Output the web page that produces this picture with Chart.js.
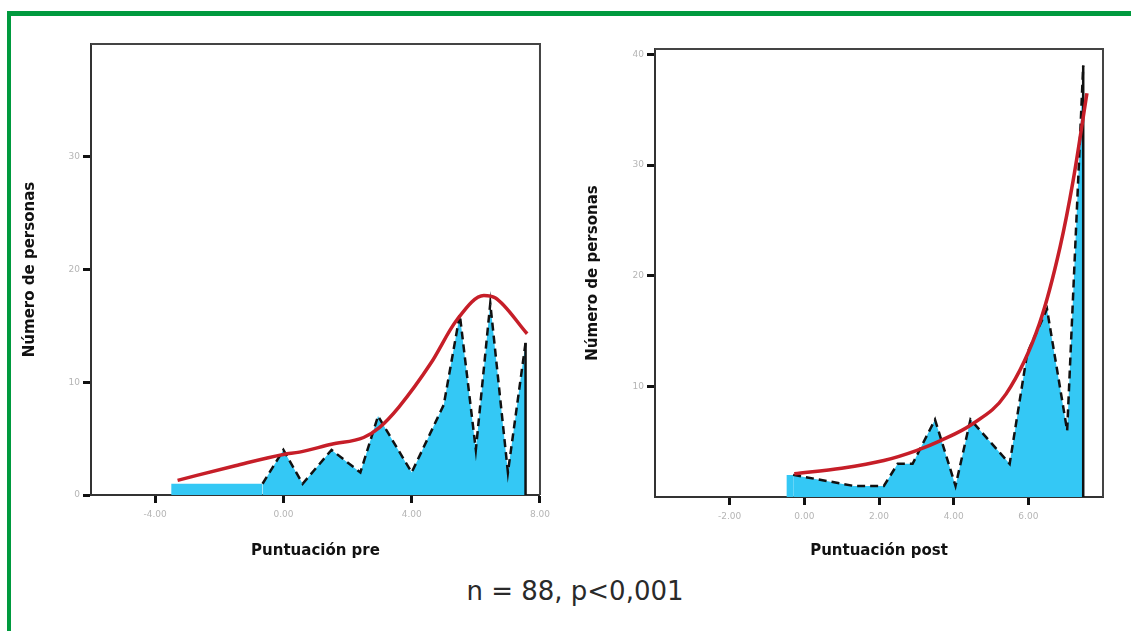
<!DOCTYPE html>
<html lang="es">
<head>
<meta charset="UTF-8">
<title>Puntuación pre / post</title>
<script src="https://cdn.jsdelivr.net/npm/chart.js"></script>
<style>
  body { margin: 0; background: #fff; width: 1131px; height: 631px; overflow: hidden; position: relative; }
  .marco { position: absolute; left: 7px; top: 11px; width: 1200px; height: 700px;
           border-top: 5px solid #009a3e; border-left: 4px solid #009a3e; }
  canvas { position: absolute; }
  #pre { left: 16px; top: 30px; }
  #post { left: 570px; top: 30px; }
  .pie { position: absolute; left: 375px; top: 576px; width: 400px; text-align: center;
         font: 26px "DejaVu Sans", sans-serif; color: #2a2a2a; line-height: 30px; }
</style>
</head>
<body>
<div class="marco"></div>
<canvas id="pre" width="540" height="540"></canvas>
<canvas id="post" width="545" height="540"></canvas>
<div class="pie">n = 88, p&lt;0,001</div>

<script>
// puntuación pre: polígono de frecuencias
const preX = [-3.5, -0.65, 0.0, 0.6, 1.5, 2.4, 2.95, 4.0, 5.0, 5.5, 6.0, 6.45, 7.0, 7.55, 7.55];
const preY = [1, 1, 4, 1, 4, 2, 7, 2, 8, 16, 4, 17, 2, 13.5, 0];
// curva ajustada (roja)
const preCurvaX = [-3.3, -1.5, 0.0, 0.5, 1.5, 2.5, 3.0, 3.6, 4.6, 5.4, 6.25, 6.6, 7.6];
const preCurvaY = [1.3, 2.6, 3.6, 3.8, 4.5, 5.1, 6.0, 7.8, 11.7, 15.5, 17.7, 17.5, 14.3];
const preTicksX = [-4, 0, 4, 8];
const preTicksY = [0, 10, 20, 30];

// puntuación post
const postX = [-0.48, -0.3, 1.33, 2.13, 2.5, 2.9, 3.5, 4.05, 4.45, 5.5, 5.97, 6.5, 7.04, 7.47, 7.47];
const postY = [2, 2, 1, 1, 3, 3, 7, 1, 7, 3, 13, 17, 6, 39, 0];
const postCurvaX = [-0.27, 1.0, 2.13, 3.0, 3.65, 4.5, 5.4, 6.3, 6.85, 7.2, 7.57];
const postCurvaY = [2.1, 2.6, 3.3, 4.2, 5.1, 6.6, 9.3, 15.7, 22.6, 28.6, 36.5];
const postTicksX = [-2, 0, 2, 4, 6];
const postTicksY = [10, 20, 30, 40];

const azul = 'rgb(52, 200, 245)';
const rojo = 'rgb(198, 30, 40)';
const tituloFont = { family: 'DejaVu Sans', size: 15, weight: 'bold' };
const tickFont = { family: 'DejaVu Sans', size: 9 };

const puntos = (xs, ys) => xs.map((x, i) => ({ x: x, y: ys[i] }));

// marco superior y derecho del área de datos
const marco = {
  id: 'marco',
  afterDraw(chart) {
    const a = chart.chartArea, ctx = chart.ctx;
    ctx.save();
    ctx.strokeStyle = '#444';
    ctx.lineWidth = 2;
    ctx.beginPath();
    ctx.moveTo(a.left, a.top);
    ctx.lineTo(a.right, a.top);
    ctx.lineTo(a.right, a.bottom);
    ctx.stroke();
    ctx.restore();
  }
};

function grafico(id, poliX, poliY, curX, curY, ticksX, ticksY, xMin, xMax, yMax, tituloX, dims) {
  const n = poliX.length;
  new Chart(document.getElementById(id), {
    type: 'line',
    data: {
      datasets: [{
        data: puntos(curX, curY),
        borderColor: rojo,
        borderWidth: 3.5,
        pointRadius: 0,
        cubicInterpolationMode: 'monotone',
        fill: false
      }, {
        data: puntos(poliX, poliY),
        borderColor: '#111',
        borderWidth: 2.5,
        borderDash: [8, 5],
        backgroundColor: azul,
        pointRadius: 0,
        tension: 0,
        fill: 'origin',
        segment: {
          borderColor: c => c.p0DataIndex === 0 ? 'rgba(0,0,0,0)' : undefined,
          borderDash: c => c.p1DataIndex === n - 1 ? [] : undefined
        }
      }]
    },
    options: {
      responsive: false,
      animation: false,
      devicePixelRatio: 1,
      layout: { padding: { top: dims.top, right: dims.right, left: 0, bottom: 0 } },
      plugins: { legend: { display: false }, tooltip: { enabled: false } },
      scales: {
        x: {
          type: 'linear',
          min: xMin,
          max: xMax,
          afterBuildTicks: s => { s.ticks = ticksX.map(v => ({ value: v })); },
          afterFit: s => { s.height = dims.xh; },
          ticks: { font: tickFont, color: '#b5b5b5', padding: 6, maxRotation: 0,
                   callback: v => v.toFixed(2) },
          grid: { drawOnChartArea: false, drawTicks: true, tickLength: 8, tickWidth: 3, tickColor: '#111' },
          border: { color: '#333', width: 2 },
          title: { display: true, text: tituloX, font: tituloFont, color: '#111',
                   padding: { top: 0, bottom: dims.tb } }
        },
        y: {
          min: 0,
          max: yMax,
          afterBuildTicks: s => { s.ticks = ticksY.map(v => ({ value: v })); },
          afterFit: s => { s.width = dims.yw; },
          ticks: { font: tickFont, color: '#b5b5b5', padding: 3 },
          grid: { drawOnChartArea: false, drawTicks: true, tickLength: 8, tickWidth: 3, tickColor: '#111' },
          border: { color: '#333', width: 2 },
          title: { display: true, text: 'Número de personas', font: tituloFont, color: '#111',
                   padding: { top: dims.tl, bottom: 0 } }
        }
      }
    },
    plugins: [marco]
  });
}

grafico('pre', preX, preY, preCurvaX, preCurvaY, preTicksX, preTicksY, -6, 8, 40, 'Puntuación pre',
  { top: 14, right: 15, xh: 75, yw: 75, tb: 10, tl: 5 });
grafico('post', postX, postY, postCurvaX, postCurvaY, postTicksX, postTicksY, -4, 8, 40.5, 'Puntuación post',
  { top: 19, right: 12, xh: 73, yw: 85, tb: 10, tl: 14 });
</script>
</body>
</html>
